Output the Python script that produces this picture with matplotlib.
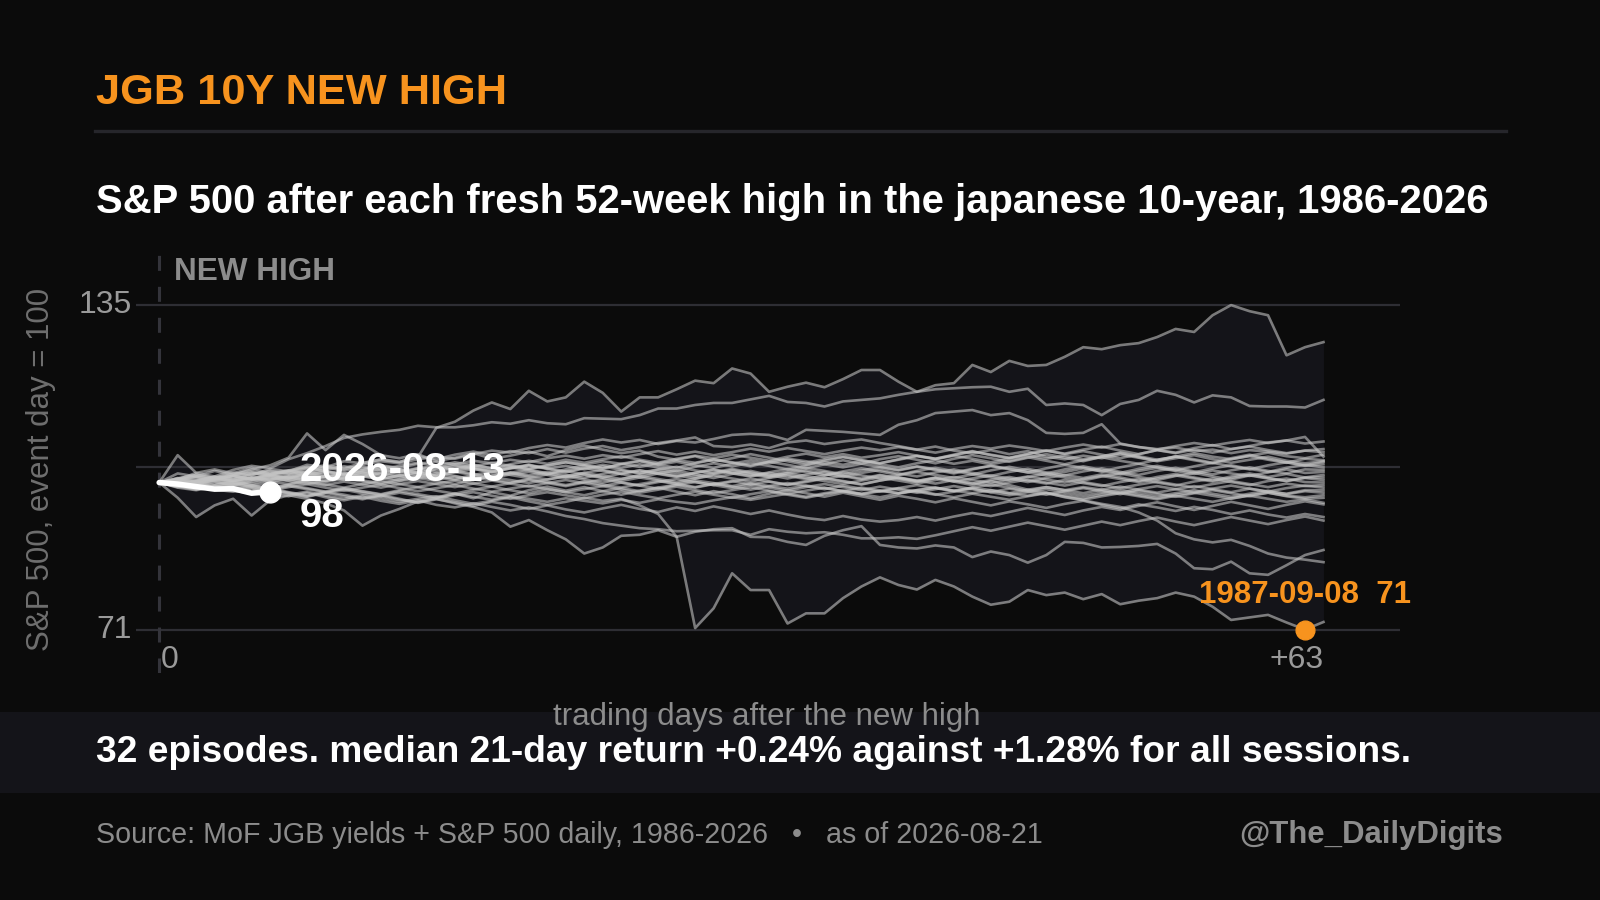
import numpy as np
import matplotlib
matplotlib.use("Agg")
import matplotlib.pyplot as plt
from matplotlib.patches import Rectangle
from matplotlib.transforms import blended_transform_factory

# S&P 500 paths (event day = 100) after each new JGB 10Y 52-week high, 64 trading days each
ep01 = [100.0, 100.8, 101.5, 100.9, 102.0, 101.4, 102.7, 102.2, 103.5, 103.0, 104.2, 103.8, 104.6, 104.1,
        105.0, 110.8, 112.0, 114.2, 115.8, 114.5, 118.1, 116.0, 116.8, 119.9, 117.7, 114.0, 116.8, 116.8,
        118.4, 120.1, 119.6, 122.5, 121.5, 117.9, 118.9, 119.7, 118.8, 120.4, 122.2, 122.2, 119.9, 117.9,
        119.2, 119.6, 123.2, 121.8, 124.0, 123.0, 123.2, 124.8, 126.7, 126.3, 127.1, 127.5, 128.7, 130.3,
        129.7, 133.0, 135.0, 133.8, 133.0, 125.1, 126.7, 127.7]
ep02 = [100.0, 100.6, 101.9, 101.2, 102.5, 103.3, 102.8, 104.6, 105.8, 107.2, 108.8, 109.5, 110.0, 110.4,
        111.2, 110.9, 110.9, 111.3, 111.9, 111.6, 112.3, 111.7, 111.5, 112.7, 112.6, 112.5, 113.3, 114.6,
        114.6, 115.3, 115.7, 115.7, 116.4, 117.1, 115.9, 115.7, 115.0, 116.0, 116.3, 116.6, 117.3, 117.9,
        118.4, 118.6, 118.8, 118.9, 117.9, 118.5, 115.3, 115.6, 115.3, 113.3, 115.5, 116.3, 118.1, 117.3,
        115.8, 117.2, 116.8, 115.1, 115.0, 115.0, 114.8, 116.3]
ep03 = [100.0, 100.4, 99.8, 100.9, 101.3, 100.7, 101.8, 102.4, 101.9, 103.1, 102.6, 103.5, 104.2, 103.8,
        104.6, 105.1, 104.7, 105.6, 106.3, 105.9, 106.8, 107.4, 106.9, 107.8, 108.5, 107.9, 108.4, 107.6,
        108.2, 107.9, 108.6, 109.4, 109.6, 109.4, 108.4, 110.4, 110.2, 110.0, 109.7, 109.4, 111.4, 112.3,
        113.7, 114.0, 114.3, 113.3, 113.7, 112.3, 109.8, 109.6, 109.8, 111.5, 107.7, 107.0, 106.6, 106.9,
        106.2, 106.5, 105.8, 106.4, 106.1, 105.7, 106.3, 106.0]
ep04 = [100.0, 99.6, 100.5, 101.1, 100.6, 101.7, 102.3, 101.8, 102.9, 103.4, 102.8, 103.9, 104.5, 104.0,
        105.2, 104.6, 105.5, 106.1, 105.4, 106.2, 105.8, 106.6, 105.9, 106.7, 107.2, 106.4, 107.0, 107.8,
        108.3, 108.9, 107.2, 107.0, 107.5, 106.8, 107.9, 108.3, 107.6, 108.1, 108.5, 107.8, 107.2, 106.5,
        107.1, 106.3, 105.8, 106.4, 105.6, 106.2, 105.1, 104.6, 105.3, 104.8, 105.5, 104.9, 104.2, 104.8,
        105.4, 104.6, 103.9, 104.5, 105.1, 104.3, 103.8, 104.2]
ep05 = [100.0, 101.8, 101.2, 102.3, 101.5, 102.6, 103.4, 104.9, 109.7, 106.4, 109.4, 107.6, 105.4, 104.8,
        105.6, 104.2, 104.9, 105.8, 104.7, 105.3, 106.1, 105.2, 106.4, 107.3, 106.5, 105.8, 106.3, 105.1,
        104.5, 105.2, 104.1, 104.8, 105.6, 104.9, 104.2, 103.5, 104.3, 105.0, 104.4, 103.8, 104.6, 105.3,
        104.7, 105.5, 106.2, 105.4, 104.8, 105.6, 106.3, 105.7, 106.5, 107.1, 106.3, 105.6, 106.4, 105.9,
        106.8, 107.4, 106.6, 107.2, 107.9, 108.3, 109.0, 105.1]
ep06 = [100.0, 105.4, 101.9, 102.6, 101.8, 102.9, 101.7, 102.4, 103.1, 102.2, 101.6, 102.5, 103.3, 102.7,
        101.9, 102.8, 103.6, 102.9, 102.2, 103.0, 102.4, 101.7, 102.6, 103.4, 102.8, 103.7, 104.3, 103.5,
        102.9, 103.8, 104.5, 103.9, 103.2, 104.1, 103.5, 102.8, 103.6, 104.4, 103.7, 104.6, 105.2, 104.5,
        103.8, 104.7, 105.4, 104.8, 104.1, 104.9, 105.6, 104.9, 104.2, 105.1, 105.8, 105.0, 104.3, 105.2,
        104.6, 103.9, 104.8, 105.5, 104.7, 104.0, 103.4, 104.1]
ep07 = [100.0, 97.0, 93.2, 95.5, 96.8, 93.5, 96.5, 97.5, 96.8, 95.9, 94.5, 91.5, 93.5, 94.8,
        96.3, 97.0, 97.8, 96.9, 98.1, 97.4, 98.5, 99.2, 98.4, 99.1, 98.3, 97.6, 98.4, 99.0,
        98.2, 97.5, 98.3, 97.7, 96.9, 97.8, 98.5, 97.9, 97.2, 98.0, 97.3, 96.6, 97.4, 96.8,
        96.1, 96.9, 96.2, 95.5, 96.3, 95.7, 95.0, 95.8, 96.4, 95.6, 94.9, 95.7, 95.1, 94.4,
        95.2, 94.6, 93.8, 94.5, 93.7, 93.1, 93.8, 93.2]
ep08 = [100.0, 99.2, 98.6, 99.4, 98.8, 97.9, 98.5, 97.6, 98.2, 97.4, 96.8, 97.5, 96.9, 96.2,
        96.8, 97.3, 96.5, 95.8, 96.4, 97.1, 96.3, 95.6, 96.2, 97.0, 96.4, 96.8, 95.5, 93.8,
        89.3, 71.3, 75.2, 82.1, 78.8, 78.8, 72.2, 74.2, 74.2, 77.2, 79.5, 81.3, 79.8, 78.9,
        80.8, 79.5, 77.5, 75.9, 76.5, 78.8, 77.8, 78.3, 77.0, 78.0, 76.0, 76.7, 77.2, 78.3,
        77.5, 75.5, 72.9, 73.4, 73.9, 72.4, 71.0, 72.5]
ep09 = [100.0, 99.5, 99.8, 98.9, 99.3, 98.4, 98.9, 98.1, 97.5, 98.2, 97.6, 96.9, 97.4, 96.6,
        96.1, 96.8, 95.9, 95.2, 94.1, 91.3, 92.6, 90.6, 88.8, 86.0, 87.2, 89.5, 89.7, 90.6,
        89.3, 90.3, 90.8, 91.0, 89.3, 89.2, 88.3, 87.7, 89.5, 90.6, 91.4, 87.7, 87.2, 87.0,
        87.6, 87.2, 85.3, 86.4, 85.7, 84.2, 85.7, 88.3, 88.1, 87.2, 87.3, 87.5, 87.9, 86.0,
        83.1, 82.9, 84.4, 82.1, 81.8, 83.7, 85.7, 86.7]
ep10 = [100.0, 99.1, 99.7, 98.6, 98.2, 98.9, 97.8, 97.3, 98.0, 97.1, 96.5, 97.2, 96.4, 95.8,
        96.5, 95.6, 95.1, 95.9, 95.2, 94.5, 95.1, 94.3, 93.4, 92.8, 92.0, 91.5, 91.0, 90.8,
        90.4, 90.5, 90.6, 90.6, 89.7, 90.8, 90.3, 90.0, 90.2, 89.7, 89.0, 89.0, 89.2, 88.9,
        89.6, 90.4, 91.2, 90.5, 91.3, 92.1, 91.4, 90.7, 91.5, 92.3, 91.6, 92.4, 93.1, 92.3,
        91.6, 92.4, 93.2, 92.5, 91.8, 92.6, 93.3, 92.5]
ep11 = [100.0, 100.6, 99.9, 100.8, 101.4, 100.7, 101.5, 100.9, 101.8, 101.2, 100.5, 101.3, 102.0, 101.4,
        100.8, 101.6, 102.3, 101.7, 101.0, 101.9, 102.6, 101.8, 101.1, 101.9, 102.5, 101.7, 101.0, 101.8,
        102.4, 101.6, 100.9, 101.7, 102.3, 101.5, 100.8, 101.6, 102.1, 101.3, 100.6, 101.4, 100.8, 100.1,
        100.9, 100.2, 99.5, 100.3, 99.5, 98.6, 98.0, 97.1, 96.5, 95.8, 95.2, 94.1, 92.5, 90.0,
        88.8, 88.2, 88.7, 87.5, 86.0, 85.2, 84.8, 84.3]
ep12 = [100.0, 99.4, 98.7, 99.3, 98.5, 97.8, 98.6, 97.9, 97.2, 98.0, 97.3, 96.7, 97.5, 96.8,
        96.0, 96.7, 96.1, 95.4, 96.2, 95.6, 94.8, 95.5, 94.7, 94.1, 94.9, 95.6, 94.8, 94.2,
        95.1, 94.4, 95.3, 94.6, 93.8, 94.5, 93.7, 93.0, 92.6, 93.4, 92.7, 92.3, 92.6, 93.2,
        92.5, 93.3, 94.0, 93.4, 94.2, 95.0, 94.3, 93.6, 94.5, 95.2, 94.6, 95.4, 96.1, 95.3,
        94.6, 95.4, 96.2, 95.5, 94.8, 95.6, 96.3, 95.7]
ep13 = [100.0, 100.5, 101.1, 100.6, 101.4, 102.0, 101.5, 102.3, 101.8, 102.6, 103.2, 102.7, 103.4, 102.9,
        103.7, 104.1, 103.6, 104.3, 103.8, 104.5, 104.0, 104.8, 105.3, 104.7, 105.4, 104.9, 105.6, 106.2,
        105.5, 106.1, 105.4, 106.0, 106.7, 106.1, 106.8, 106.2, 105.6, 106.3, 106.9, 106.4, 107.0, 106.5,
        105.9, 106.6, 107.2, 106.7, 107.3, 106.8, 106.2, 106.9, 107.5, 106.9, 107.6, 107.0, 106.5, 107.2,
        107.8, 107.3, 107.9, 108.4, 107.8, 108.3, 107.7, 108.1]
ep14 = [100.0, 100.9, 100.3, 101.2, 100.7, 101.5, 102.2, 101.6, 102.4, 103.0, 102.3, 103.1, 102.5, 103.3,
        103.9, 103.2, 104.0, 103.4, 102.8, 103.6, 104.3, 103.7, 104.5, 103.9, 104.6, 105.2, 104.5, 103.9,
        104.7, 105.3, 104.8, 105.5, 104.9, 104.3, 105.1, 105.7, 105.0, 105.6, 104.9, 105.4, 106.0, 105.3,
        104.7, 105.4, 106.1, 105.5, 104.9, 105.7, 106.3, 105.6, 106.2, 105.5, 104.8, 105.6, 106.4, 105.8,
        106.5, 105.9, 106.6, 107.1, 106.4, 105.8, 106.3, 106.6]
ep15 = [100.0, 100.3, 99.6, 100.4, 101.0, 100.5, 101.2, 100.8, 101.5, 102.1, 101.4, 102.0, 101.3, 102.2,
        102.8, 102.1, 102.9, 103.5, 102.8, 103.4, 102.7, 103.3, 104.0, 103.4, 102.8, 103.6, 104.2, 103.5,
        104.1, 103.4, 102.9, 103.7, 104.4, 103.8, 104.5, 103.9, 104.6, 105.1, 104.4, 103.8, 104.5, 105.2,
        104.6, 105.3, 104.7, 104.0, 104.8, 105.4, 104.7, 105.3, 104.6, 105.2, 105.9, 105.2, 104.5, 105.1,
        105.8, 105.1, 104.6, 105.3, 105.9, 105.2, 104.8, 105.5]
ep16 = [100.0, 99.7, 100.4, 101.0, 100.3, 100.9, 101.6, 101.0, 100.4, 101.2, 101.8, 101.2, 101.9, 102.5,
        101.8, 101.2, 102.0, 102.7, 102.1, 102.8, 103.4, 102.7, 102.0, 102.8, 103.5, 102.9, 103.6, 103.0,
        102.3, 103.1, 103.8, 103.2, 103.9, 103.3, 102.6, 103.4, 104.1, 103.5, 104.2, 103.6, 103.0, 103.8,
        104.4, 103.7, 104.3, 103.6, 104.3, 105.0, 104.3, 103.6, 104.4, 105.0, 104.3, 103.7, 104.5, 105.1,
        104.4, 103.8, 104.6, 105.2, 104.5, 103.9, 104.7, 104.4]
ep17 = [100.0, 100.4, 101.0, 100.2, 99.6, 100.5, 101.1, 100.4, 101.0, 100.3, 101.1, 101.7, 101.0, 100.4,
        101.2, 101.9, 101.3, 100.6, 101.4, 102.0, 101.4, 102.1, 101.5, 100.9, 101.7, 102.4, 101.8, 102.5,
        101.9, 101.2, 102.0, 102.7, 102.0, 101.4, 102.2, 102.9, 102.3, 101.6, 102.4, 103.0, 102.4, 103.1,
        102.5, 101.8, 102.6, 103.3, 102.7, 102.0, 102.8, 103.5, 102.9, 102.2, 103.0, 103.7, 103.0, 102.4,
        103.2, 103.9, 103.2, 102.6, 103.4, 104.0, 103.3, 103.6]
ep18 = [100.0, 99.5, 100.1, 100.7, 100.1, 100.8, 100.2, 99.7, 100.5, 101.2, 100.6, 101.3, 100.7, 101.4,
        102.0, 101.3, 100.7, 101.5, 102.1, 101.5, 100.9, 101.6, 102.3, 101.6, 101.0, 101.8, 102.4, 101.7,
        101.1, 101.9, 102.6, 101.9, 101.3, 102.0, 102.7, 102.1, 101.4, 102.2, 102.8, 102.2, 101.5, 102.3,
        102.9, 102.3, 101.6, 102.4, 103.1, 102.4, 101.8, 102.6, 103.2, 102.5, 101.9, 102.7, 103.3, 102.6,
        102.0, 102.8, 103.4, 102.7, 102.1, 102.9, 103.5, 103.0]
ep19 = [100.0, 100.2, 99.5, 100.1, 99.4, 100.2, 100.9, 100.3, 99.7, 100.4, 101.0, 100.4, 99.9, 100.7,
        101.3, 100.6, 101.2, 100.5, 101.3, 101.9, 101.2, 100.6, 101.3, 101.9, 101.3, 100.7, 101.5, 102.1,
        101.4, 100.8, 101.6, 102.2, 101.6, 101.0, 101.8, 102.4, 101.7, 101.1, 101.9, 102.5, 101.8, 101.2,
        102.0, 102.6, 101.9, 101.3, 102.1, 102.7, 102.0, 101.4, 102.2, 102.8, 102.1, 101.5, 102.3, 102.9,
        102.2, 101.6, 102.4, 103.0, 102.3, 101.8, 102.6, 102.5]
ep20 = [100.0, 100.7, 100.2, 99.6, 100.3, 101.0, 100.6, 101.4, 102.0, 101.5, 100.9, 101.7, 102.5, 102.0,
        102.8, 103.3, 102.6, 103.2, 103.9, 103.3, 102.7, 103.4, 104.0, 103.5, 104.2, 103.7, 103.1, 103.8,
        104.4, 103.9, 104.6, 104.0, 103.4, 104.1, 104.7, 104.2, 103.6, 103.0, 103.7, 103.1, 102.5, 103.2,
        102.6, 102.0, 102.7, 103.3, 102.6, 102.0, 101.4, 102.1, 102.8, 102.2, 101.6, 102.3, 102.9, 102.3,
        101.7, 102.4, 101.8, 101.3, 102.0, 102.6, 101.9, 102.1]
ep21 = [100.0, 99.3, 99.9, 99.2, 98.6, 99.4, 98.8, 99.5, 98.9, 98.2, 98.9, 98.3, 97.7, 98.5,
        99.1, 98.4, 97.8, 98.6, 99.2, 98.5, 97.9, 98.7, 98.1, 97.5, 98.3, 98.9, 98.3, 99.0,
        99.6, 99.0, 99.7, 100.3, 99.6, 100.2, 99.5, 100.1, 100.8, 100.2, 99.6, 100.4, 101.0, 100.3,
        100.9, 100.2, 100.8, 101.4, 100.8, 100.1, 100.9, 101.5, 100.9, 101.6, 101.0, 100.3, 101.1, 101.7,
        101.0, 100.4, 101.2, 101.8, 101.1, 101.7, 101.0, 101.5]
ep22 = [100.0, 100.8, 101.5, 100.9, 101.7, 102.3, 101.6, 102.2, 102.9, 102.3, 101.7, 102.4, 103.1, 102.5,
        101.9, 102.6, 103.3, 102.7, 102.0, 102.8, 103.4, 102.8, 102.2, 102.9, 102.3, 101.7, 102.4, 101.8,
        101.2, 101.9, 102.5, 101.8, 101.2, 101.9, 101.3, 100.7, 101.4, 102.0, 101.4, 100.8, 101.5, 102.1,
        101.5, 100.9, 101.6, 101.0, 100.4, 101.1, 101.7, 101.0, 100.4, 101.2, 101.8, 101.1, 100.5, 101.3,
        101.9, 101.2, 100.6, 101.4, 100.8, 100.3, 101.0, 101.0]
ep23 = [100.0, 99.6, 100.3, 100.9, 100.4, 99.8, 100.6, 101.2, 100.7, 100.1, 100.8, 100.2, 99.6, 100.3,
        100.9, 100.3, 99.7, 100.5, 101.1, 100.5, 99.9, 100.6, 101.2, 100.6, 100.0, 100.7, 101.3, 100.7,
        100.1, 100.8, 101.4, 100.8, 100.2, 100.9, 101.5, 100.9, 100.3, 99.7, 100.4, 101.0, 100.4, 99.8,
        100.5, 101.1, 100.5, 99.9, 100.6, 101.2, 100.6, 100.0, 100.7, 101.3, 100.7, 100.1, 100.8, 101.4,
        100.8, 100.2, 100.9, 101.5, 100.9, 100.3, 100.9, 100.5]
ep24 = [100.0, 100.5, 99.8, 100.6, 101.3, 100.7, 101.4, 100.8, 101.6, 102.2, 101.5, 102.1, 102.7, 102.0,
        102.6, 103.1, 102.4, 103.0, 102.3, 102.9, 103.5, 102.8, 103.3, 102.6, 103.2, 102.5, 101.9, 102.6,
        103.1, 102.4, 101.8, 102.5, 101.8, 101.2, 101.9, 101.3, 100.7, 101.4, 100.8, 101.5, 100.9, 100.3,
        101.0, 100.4, 99.8, 100.5, 101.1, 100.4, 99.8, 100.5, 99.9, 99.3, 100.1, 100.7, 100.0, 99.4,
        100.2, 100.8, 100.1, 99.5, 100.3, 100.8, 100.1, 100.0]
ep25 = [100.0, 99.4, 98.8, 99.5, 100.1, 99.5, 98.9, 99.6, 100.2, 99.6, 99.0, 99.7, 100.3, 99.7,
        99.1, 99.8, 100.4, 99.8, 99.2, 99.9, 100.5, 99.9, 99.3, 100.0, 100.6, 100.0, 99.4, 100.1,
        100.7, 100.1, 99.5, 100.2, 100.8, 100.2, 99.6, 100.3, 100.9, 100.3, 99.7, 100.4, 101.0, 100.4,
        99.8, 100.5, 99.9, 99.3, 100.0, 100.6, 100.0, 99.4, 100.1, 99.5, 98.9, 99.6, 100.2, 99.6,
        99.0, 99.7, 100.3, 99.7, 99.1, 99.8, 99.3, 99.5]
ep26 = [100.0, 100.3, 99.7, 99.1, 99.8, 99.2, 98.6, 99.3, 98.7, 98.1, 98.8, 98.2, 97.6, 98.3,
        97.7, 97.1, 97.8, 97.2, 96.6, 97.3, 96.8, 96.2, 96.9, 96.4, 95.9, 96.6, 96.0, 96.7,
        96.2, 95.8, 96.5, 97.1, 96.6, 97.2, 97.8, 97.2, 97.9, 98.4, 97.8, 98.4, 97.9, 98.5,
        99.0, 98.4, 99.0, 98.5, 97.9, 98.6, 99.1, 98.5, 99.1, 98.6, 98.0, 98.7, 99.3, 98.7,
        98.1, 98.8, 99.4, 98.8, 98.2, 98.9, 99.4, 99.0]
ep27 = [100.0, 100.6, 101.2, 100.7, 101.3, 101.9, 101.4, 102.0, 101.5, 100.9, 101.6, 102.2, 101.6, 101.0,
        101.7, 101.1, 100.5, 101.2, 100.6, 100.0, 100.7, 100.1, 99.5, 100.2, 99.6, 99.0, 99.7, 100.3,
        99.7, 99.1, 99.8, 99.2, 98.6, 99.3, 99.9, 99.3, 98.7, 99.4, 98.8, 98.2, 98.9, 99.5,
        98.9, 98.3, 99.0, 99.6, 99.0, 98.4, 99.1, 98.5, 97.9, 98.6, 99.2, 98.6, 98.0, 98.7,
        99.3, 98.7, 98.1, 98.8, 98.2, 97.8, 98.5, 98.5]
ep28 = [100.0, 99.2, 99.8, 99.1, 99.7, 99.0, 98.4, 99.1, 99.7, 99.0, 98.4, 99.0, 99.6, 98.9,
        98.3, 98.9, 99.5, 98.8, 98.2, 98.8, 99.4, 98.7, 98.1, 98.7, 99.3, 98.6, 98.0, 98.6,
        99.2, 98.5, 97.9, 98.5, 99.1, 98.4, 97.8, 98.4, 99.0, 98.3, 97.7, 98.3, 98.9, 98.2,
        97.6, 98.2, 98.8, 98.1, 97.5, 98.1, 98.7, 98.0, 97.4, 98.0, 98.6, 97.9, 97.3, 97.9,
        98.5, 97.8, 97.2, 97.8, 98.4, 97.7, 98.3, 98.0]
ep29 = [100.0, 100.4, 99.9, 100.5, 100.0, 99.4, 100.1, 100.7, 100.1, 99.5, 100.2, 99.6, 99.0, 99.7,
        100.3, 99.7, 99.1, 99.8, 100.4, 99.8, 99.2, 99.9, 100.5, 99.9, 99.3, 100.0, 99.4, 98.8,
        99.5, 100.1, 99.5, 98.9, 99.6, 99.0, 98.4, 99.1, 99.7, 99.1, 98.5, 99.2, 98.6, 98.0,
        98.7, 99.3, 98.7, 98.1, 98.8, 98.2, 97.6, 98.3, 98.9, 98.3, 97.7, 98.4, 97.8, 97.2,
        97.9, 98.5, 97.9, 97.3, 98.0, 97.4, 97.1, 97.5]
ep30 = [100.0, 99.5, 100.2, 100.8, 100.3, 101.0, 100.5, 101.1, 101.7, 101.1, 101.8, 101.2, 100.7, 101.4,
        102.0, 101.4, 102.1, 101.5, 100.9, 101.6, 102.1, 101.5, 100.9, 101.5, 100.9, 100.3, 101.0, 100.4,
        99.8, 100.4, 99.9, 99.3, 99.9, 99.3, 98.8, 99.4, 98.9, 98.3, 99.0, 98.4, 97.9, 98.5,
        99.0, 98.4, 97.9, 98.5, 97.9, 97.4, 98.0, 97.5, 96.9, 97.6, 98.1, 97.5, 96.9, 97.6,
        98.0, 97.4, 96.8, 97.5, 98.0, 97.3, 96.8, 97.0]
ep31 = [100.0, 99.0, 98.5, 99.1, 98.4, 97.9, 98.6, 98.0, 97.3, 98.0, 98.6, 97.9, 97.3, 98.0,
        97.4, 96.8, 97.5, 98.1, 97.4, 96.8, 97.5, 98.1, 97.5, 96.9, 97.6, 98.2, 97.5, 96.9,
        97.6, 98.2, 97.6, 97.0, 97.7, 98.3, 97.6, 97.0, 97.7, 98.3, 97.7, 97.1, 97.8, 98.4,
        97.7, 97.1, 97.8, 97.2, 96.6, 97.3, 97.9, 97.2, 96.6, 97.3, 97.9, 97.3, 96.7, 97.4,
        96.8, 96.2, 96.9, 97.4, 96.8, 96.2, 96.7, 96.0]

# the episode still running
current = [100.0, 99.7, 99.2, 98.7, 98.8, 97.9, 98.2]
current_date = "2026-08-13"
worst_date = "1987-09-08"

title = "JGB 10Y NEW HIGH"
subtitle = "S&P 500 after each fresh 52-week high in the japanese 10-year, 1986-2026"
summary = "32 episodes. median 21-day return +0.24% against +1.28% for all sessions."
source = "Source: MoF JGB yields + S&P 500 daily, 1986-2026   \u2022   as of 2026-08-21"
handle = "@The_DailyDigits"

BG = "#0b0b0b"
BAND = "#141419"
ORANGE = "#F7931E"
GREY = "#8c8c8c"

plt.rcParams["font.family"] = ["Liberation Sans", "DejaVu Sans"]
plt.rcParams["lines.scale_dashes"] = False

episodes = np.array([ep01, ep02, ep03, ep04, ep05, ep06, ep07, ep08, ep09, ep10, ep11, ep12, ep13,
                     ep14, ep15, ep16, ep17, ep18, ep19, ep20, ep21, ep22, ep23, ep24, ep25, ep26,
                     ep27, ep28, ep29, ep30, ep31])
days = np.arange(episodes.shape[1])

W, H = 1600, 900
fig = plt.figure(figsize=(16, 9), dpi=100, facecolor=BG)


def fx(px):
    return px / W


def fy(py):
    return 1 - py / H


ax = fig.add_axes([fx(136), fy(673), fx(1400) - fx(136), fy(255) - fy(673)])
ax.set_facecolor("none")
ax.set_xlim(-1.255, 67.14)
ax.set_ylim(62.44, 144.88)
ax.axis("off")

lo = episodes.min(axis=0)
hi = episodes.max(axis=0)
ax.fill_between(days, lo, hi, color=BAND, lw=0, zorder=1)

top = hi.max()
bottom = lo.min()
for v in (bottom, (top + bottom) / 2, top):
    ax.axhline(v, color="#2e2e34", lw=1.6, zorder=2)
ax.axvline(0, color="#34343b", lw=2.2, dashes=(10.8, 11.5), zorder=2)

for ep in episodes:
    ax.plot(days, ep, color="#c4c4c4", alpha=0.6, lw=1.9, zorder=3)

cd = np.arange(len(current))
ax.plot(cd, current, color="white", lw=4, solid_capstyle="round", solid_joinstyle="round", zorder=5)
ax.plot(cd[-1], current[-1], "o", color="white", ms=15, zorder=6)
ax.annotate(f"{current_date}\n{current[-1]:.0f}", (cd[-1], current[-1]), xytext=(21, -1),
            textcoords="offset points", ha="left", va="center", color="white",
            fontsize=29, fontweight="bold", linespacing=1.28, zorder=7)

wi, wd = np.unravel_index(np.argmin(episodes), episodes.shape)
wv = episodes[wi, wd]
ax.plot(days[wd], wv, "o", color=ORANGE, ms=13.5, zorder=6)
ax.annotate(f"{worst_date}  {wv:.0f}", (days[wd], wv), xytext=(0, 19),
            textcoords="offset points", ha="center", va="baseline", color=ORANGE,
            fontsize=22.5, fontweight="bold", zorder=7)

tick_col = "#9a9a9a"
yt = blended_transform_factory(ax.transAxes, ax.transData)
ax.text(-0.003, top, f"{top:.0f}", transform=yt, ha="right", va="center", fontsize=23, color=tick_col)
ax.text(-0.003, bottom, f"{bottom:.0f}", transform=yt, ha="right", va="center", fontsize=23, color=tick_col)
ax.text(0.1, 65.0, "0", ha="left", va="center", fontsize=23, color=tick_col)
ax.text(days[-1], 65.0, f"+{days[-1]}", ha="right", va="center", fontsize=23, color=tick_col)
ax.text(0.8, 141.6, "NEW HIGH", ha="left", va="center", fontsize=22.7, fontweight="bold", color=GREY)

# frame text
fig.add_artist(Rectangle((0, fy(792.7)), 1, (792.7 - 712.3) / H, transform=fig.transFigure,
                         color=BAND, lw=0, zorder=0.5))
fig.add_artist(plt.Line2D([fx(95), fx(1506)], [fy(131), fy(131)], transform=fig.transFigure,
                          color="#26262b", lw=2.4))
fig.text(fx(96), fy(104), title, color=ORANGE, fontsize=31.2, fontweight="bold", va="baseline")
fig.text(fx(96), fy(213), subtitle, color="white", fontsize=28.8, fontweight="bold", va="baseline")
fig.text(fx(41), fy(469), "S&P 500, event day = 100", rotation=90, ha="center", va="center",
         fontsize=22.5, color="#6f6f6f")
fig.text(fx(767), fy(725), "trading days after the new high", ha="center", va="baseline",
         fontsize=22.5, color=GREY)
fig.text(fx(96), fy(762), summary, color="white", fontsize=26.7, fontweight="bold", va="baseline")
fig.text(fx(96), fy(843), source, color=GREY, fontsize=20.6, va="baseline")
fig.text(fx(1503), fy(843), handle, color=GREY, fontsize=22.4, fontweight="bold",
         ha="right", va="baseline")

fig.savefig("out.png", dpi=100, facecolor=BG)
